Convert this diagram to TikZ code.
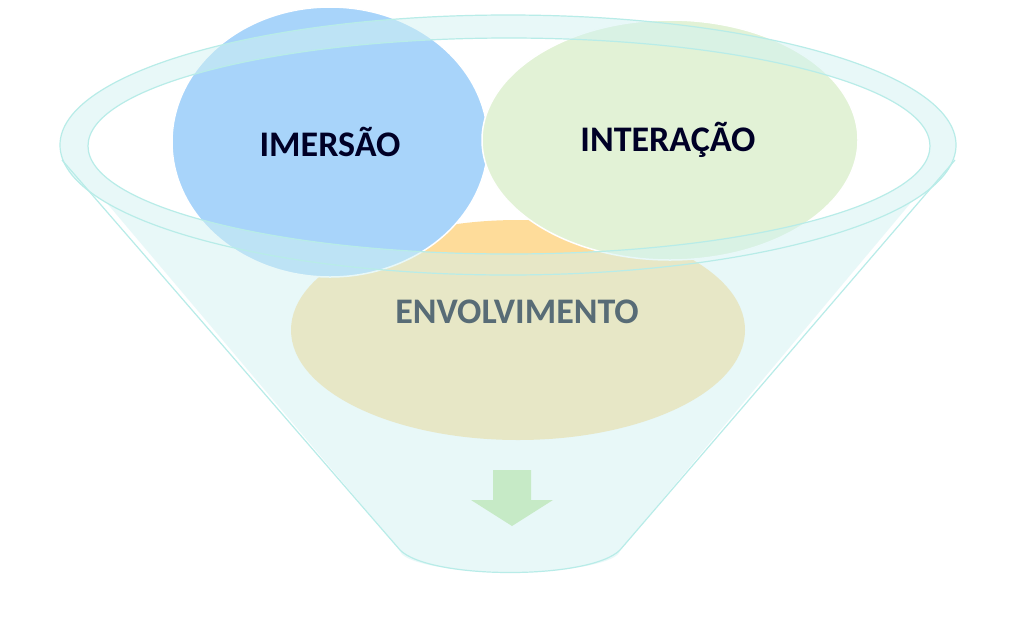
\documentclass[tikz,border=0pt]{standalone}
\usepackage{fontspec}
\setmainfont{Carlito}
\begin{document}
\begin{tikzpicture}[x=1pt,y=-1pt,
 lbl/.style={font=\bfseries\fontsize{36}{40}\selectfont,text=black!85!blue}]
\useasboundingbox (0,0) rectangle (1024,625);
\fill[white] (0,0) rectangle (1024,625);
\definecolor{fun}{HTML}{D2F2F2}
\definecolor{funl}{HTML}{B8ECE8}
\fill[color={rgb,255:red,254;green,220;blue,154}] (518,330) ellipse (227 and 110);
\fill[color={rgb,255:red,168;green,212;blue,250}, draw=white, line width=1.5] (330,142) ellipse (158 and 135);
\fill[color={rgb,255:red,226;green,242;blue,214}, draw=white, line width=1.5] (670,140) ellipse (188 and 120);
\begin{scope}[transparency group, opacity=0.5]
 \begin{scope}[even odd rule]
 \clip (0,0) rectangle (1024,625) (509,146) ellipse (421 and 108);
 \fill[fun] (508,145) ellipse (448 and 130);
 \fill[fun] (62,150)--(400,550)--(620,550)--(955,150)--cycle;
 \fill[fun] (510,550) ellipse (110 and 22);
 \end{scope}
\end{scope}
\draw[funl, line width=1.2] (508,145) ellipse (448 and 130) (509,146) ellipse (421 and 108);
\draw[funl, line width=1.2] (62,160)--(400,550) (955,160)--(620,550);
\draw[funl, line width=1.2] (400,550) .. controls (430,580) and (590,580) .. (620,550);
\fill[color={rgb,255:red,198;green,234;blue,198}] (493,470)--(531,470)--(531,500)--(553,500)--(512,526)--(471,500)--(493,500)--cycle;
\node[lbl] (im) at (330,142) {IMERSÃO};
\node[lbl] (in) at (668,140) {INTERAÇÃO};
\node[lbl, text={rgb,255:red,88;green,108;blue,118}] (en) at (517,312) {ENVOLVIMENTO};
\end{tikzpicture}
\end{document}
